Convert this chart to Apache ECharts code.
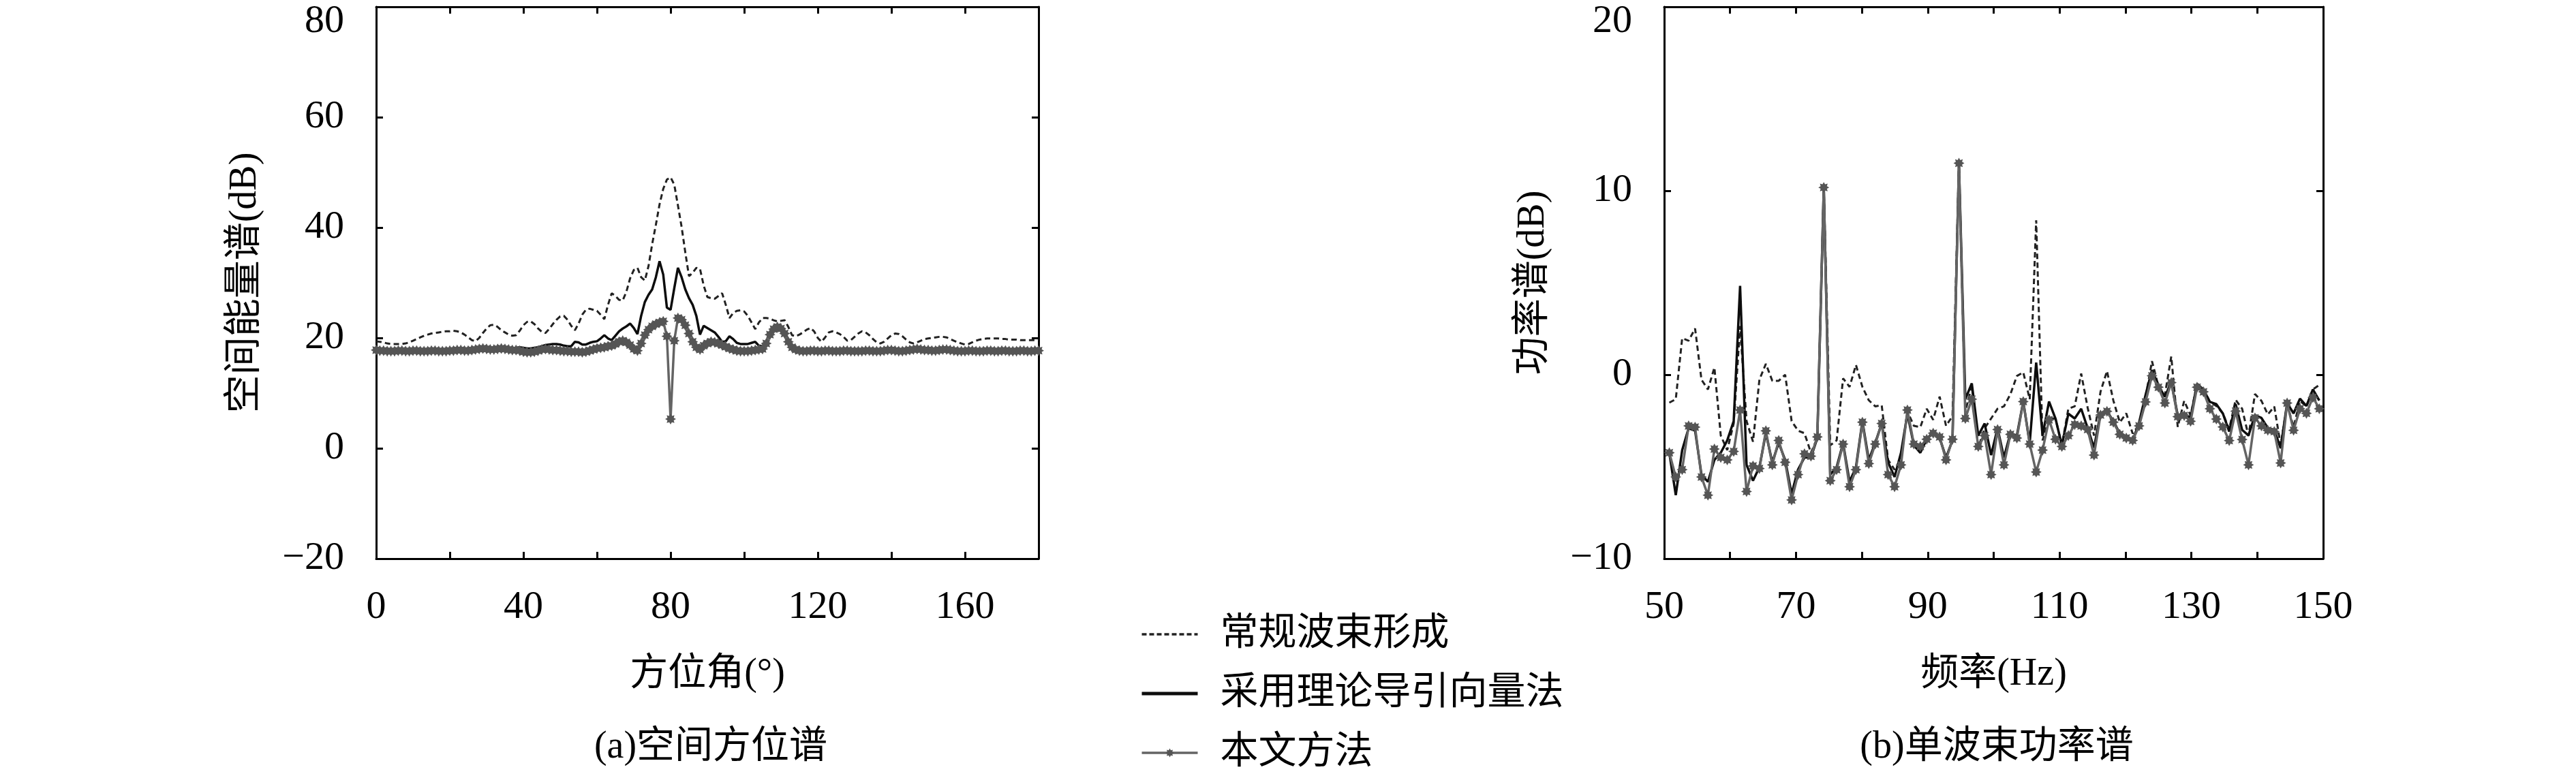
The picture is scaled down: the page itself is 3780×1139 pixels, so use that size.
<!DOCTYPE html>
<html>
<head>
<meta charset="utf-8">
<title>空间方位谱 / 单波束功率谱</title>
<script src="https://cdn.jsdelivr.net/npm/echarts@6/dist/echarts.min.js"></script>
<style>
  html, body { margin: 0; padding: 0; background: #fff; }
  #chart { width: 3780px; height: 1139px; }
</style>
</head>
<body>
<div id="chart"></div>
<script>
// ---------------- data ----------------
const seriesNames = ['常规波束形成', '采用理论导引向量法', '本文方法'];

// (a) 空间方位谱: azimuth (deg) and spatial energy spectrum (dB)
const azimuth = [
  0,1,2,3,4,5,6,7,8,9,10,11,12,13,14,15,16,17,18,19,
  20,21,22,23,24,25,26,27,28,29,30,31,32,33,34,35,36,37,38,39,
  40,41,42,43,44,45,46,47,48,49,50,51,52,53,54,55,56,57,58,59,
  60,61,62,63,64,65,66,67,68,69,70,71,72,73,74,75,76,77,78,79,
  80,81,82,83,84,85,86,87,88,89,90,91,92,93,94,95,96,97,98,99,
  100,101,102,103,104,105,106,107,108,109,110,111,112,113,114,115,116,117,118,119,
  120,121,122,123,124,125,126,127,128,129,130,131,132,133,134,135,136,137,138,139,
  140,141,142,143,144,145,146,147,148,149,150,151,152,153,154,155,156,157,158,159,
  160,161,162,163,164,165,166,167,168,169,170,171,172,173,174,175,176,177,178,179,180
];
const azConv = [
  19.4,19.3,19.2,19.0,18.9,18.9,18.9,18.9,19.0,19.2,
  19.5,19.8,20.1,20.4,20.6,20.8,20.9,21.0,21.1,21.2,
  21.2,21.3,21.2,21.0,20.6,20.1,19.6,19.4,20.0,20.9,
  21.7,22.3,22.4,22.0,21.4,21.0,20.6,20.4,20.5,21.3,
  22.3,22.9,23.0,22.5,21.7,21.1,20.9,21.6,22.5,23.3,
  23.9,24.0,23.3,22.2,21.4,22.6,24.2,25.1,25.3,25.1,
  24.9,24.2,23.4,26.0,28.1,27.6,26.9,26.8,28.4,30.8,
  32.3,32.7,31.0,30.4,33.0,37.0,40.5,44.2,47.0,48.7,
  49.1,47.8,44.0,40.1,35.5,31.2,31.8,32.7,32.5,29.5,
  27.4,27.2,27.1,27.6,28.1,26.0,23.6,24.5,24.9,25.0,
  24.8,24.0,22.8,21.6,22.8,23.6,23.6,23.5,23.2,23.0,
  23.1,23.2,22.0,20.5,20.3,20.6,21.0,21.5,21.8,21.2,
  20.0,19.3,20.1,21.0,21.2,21.0,20.7,20.2,19.5,19.6,
  20.2,20.8,21.2,21.0,20.5,19.8,19.2,19.0,19.3,19.9,
  20.5,20.8,20.7,20.3,19.7,19.2,19.0,19.2,19.5,19.8,
  19.9,20.0,20.1,20.2,20.2,20.1,19.8,19.5,19.2,19.0,
  18.8,18.9,19.2,19.5,19.7,19.8,19.9,19.9,19.9,19.9,
  19.8,19.8,19.7,19.7,19.7,19.6,19.6,19.6,19.6,19.6,19.6
];
const azSteer = [
  17.9,17.9,17.9,17.8,17.8,17.8,17.9,17.9,17.8,17.8,
  17.9,17.9,17.8,17.8,17.8,17.9,17.9,17.8,17.8,17.8,
  17.9,17.9,18.0,18.0,17.9,17.9,18.0,18.1,18.2,18.3,
  18.2,18.1,18.1,18.2,18.3,18.2,18.1,18.1,18.2,18.3,
  18.2,18.1,18.1,18.2,18.3,18.5,18.7,18.8,18.9,18.9,
  18.8,18.6,18.5,18.5,19.3,19.2,18.8,18.8,19.1,19.3,
  19.4,19.9,20.5,19.9,19.6,20.4,21.2,21.7,22.1,22.6,
  21.8,20.7,24.0,26.5,27.8,28.8,31.0,33.9,31.5,25.5,
  25.1,29.0,32.7,31.0,28.8,27.2,26.0,24.0,20.6,22.2,
  21.8,21.4,21.0,20.2,19.3,19.4,20.3,19.8,19.1,18.9,
  18.9,18.9,19.1,19.3,18.6,18.5,19.1,20.6,21.6,22.0,
  21.7,20.8,19.4,18.5,18.2,18.0,17.9,17.9,17.9,17.9,
  17.9,17.9,17.9,17.9,17.8,17.8,17.8,17.9,17.9,17.8,
  17.8,17.8,17.8,17.9,17.9,17.8,17.8,17.8,17.9,18.0,
  18.0,17.9,17.8,17.8,17.9,18.0,18.1,18.2,18.1,18.0,
  18.0,17.9,17.9,18.0,18.1,18.1,18.0,17.9,17.8,17.8,
  17.8,17.9,17.9,17.8,17.8,17.8,17.9,17.9,17.8,17.8,
  17.9,17.9,17.8,17.8,17.8,17.9,17.9,17.8,17.8,17.9,17.9
];
const azProposed = [
  17.8,17.7,17.7,17.6,17.6,17.6,17.7,17.7,17.6,17.6,
  17.7,17.7,17.6,17.6,17.6,17.7,17.7,17.6,17.6,17.6,
  17.7,17.7,17.8,17.8,17.7,17.7,17.8,17.9,18.0,18.1,
  18.0,17.9,17.9,18.0,18.1,18.0,17.9,17.8,17.8,17.7,
  17.5,17.4,17.4,17.5,17.7,17.9,18.0,17.9,17.8,17.8,
  17.7,17.6,17.6,17.5,17.5,17.5,17.4,17.5,17.7,17.9,
  18.1,18.2,18.3,18.5,18.6,18.9,19.3,19.5,19.2,18.7,
  18.0,17.7,19.0,20.5,21.5,22.1,22.5,22.8,23.0,20.3,
  5.3,19.5,23.6,23.3,22.3,20.8,19.3,18.3,17.9,18.6,
  19.0,19.3,19.2,19.0,18.7,18.4,18.1,17.9,17.7,17.6,
  17.6,17.6,17.7,17.8,17.9,18.0,19.0,20.6,21.6,22.0,
  21.7,20.8,19.3,18.3,17.9,17.7,17.6,17.6,17.7,17.7,
  17.6,17.6,17.7,17.7,17.6,17.6,17.6,17.7,17.7,17.6,
  17.6,17.6,17.6,17.7,17.7,17.6,17.6,17.6,17.7,17.8,
  17.8,17.7,17.6,17.6,17.7,17.8,17.9,18.0,17.9,17.8,
  17.8,17.7,17.7,17.8,17.9,17.9,17.8,17.7,17.6,17.6,
  17.6,17.7,17.7,17.6,17.6,17.6,17.7,17.7,17.6,17.6,
  17.7,17.7,17.6,17.6,17.6,17.7,17.7,17.6,17.6,17.7,17.7
];

// (b) 单波束功率谱: frequency bins (Hz) and power spectrum (dB)
const freq = [
  50.78,51.76,52.73,53.71,54.69,55.66,56.64,57.62,58.59,59.57,
  60.55,61.52,62.50,63.48,64.45,65.43,66.41,67.38,68.36,69.34,
  70.31,71.29,72.27,73.24,74.22,75.20,76.17,77.15,78.13,79.10,
  80.08,81.05,82.03,83.01,83.98,84.96,85.94,86.91,87.89,88.87,
  89.84,90.82,91.80,92.77,93.75,94.73,95.70,96.68,97.66,98.63,
  99.61,100.59,101.56,102.54,103.52,104.49,105.47,106.45,107.42,108.40,
  109.38,110.35,111.33,112.30,113.28,114.26,115.23,116.21,117.19,118.16,
  119.14,120.12,121.09,122.07,123.05,124.02,125.00,125.98,126.95,127.93,
  128.91,129.88,130.86,131.84,132.81,133.79,134.77,135.74,136.72,137.70,
  138.67,139.65,140.63,141.60,142.58,143.55,144.53,145.51,146.48,147.46,
  148.44,149.41
];
const pwConv = [
  -1.52,-1.33,1.98,1.85,2.51,-0.27,-0.80,0.39,-3.31,-4.10,
  -2.65,2.64,-2.52,-3.64,-0.27,0.59,-0.33,-0.33,0.00,-2.52,
  -3.04,-3.18,-4.24,-3.44,10.18,-3.84,-3.57,-0.20,-0.66,0.53,
  -0.66,-1.39,-1.72,-1.66,-4.63,-5.16,-4.60,-1.99,-2.78,-2.85,
  -1.85,-2.45,-1.19,-2.78,-2.25,11.50,-2.00,-0.60,-3.97,-2.91,
  -2.38,-1.85,-1.72,-1.06,-0.07,0.13,-1.33,8.40,-3.57,-2.38,
  -2.38,-3.84,-1.85,-1.72,0.06,-1.79,-3.31,-0.93,0.20,-1.40,
  -2.59,-2.10,-3.20,-2.72,-1.23,0.74,-0.62,-1.10,0.99,-2.84,
  -1.42,-2.22,-0.50,-0.80,-1.48,-1.70,-2.10,-2.96,-1.36,-1.85,
  -3.33,-1.05,-1.42,-2.16,-1.73,-3.83,-1.60,-2.84,-1.42,-1.73,
  -0.80,-0.56
];
const pwSteer = [
  -4.24,-6.55,-4.10,-2.91,-3.04,-5.43,-5.82,-4.63,-4.24,-3.57,
  -2.52,4.83,-4.90,-5.76,-5.03,-3.18,-4.76,-3.71,-4.63,-6.48,
  -5.16,-4.50,-4.50,-3.44,10.18,-5.43,-5.03,-3.71,-5.82,-5.03,
  -2.52,-4.63,-3.71,-2.65,-4.76,-5.56,-4.24,-2.12,-3.84,-4.24,
  -3.51,-3.11,-3.44,-4.50,-3.57,11.50,-1.33,-0.47,-3.31,-2.65,
  -4.37,-2.91,-4.50,-3.18,-3.31,-1.46,-3.71,0.66,-3.31,-1.46,
  -2.38,-3.84,-2.12,-2.38,-1.85,-2.91,-3.97,-2.12,-1.99,-2.52,
  -3.20,-3.40,-3.60,-2.60,-1.10,0.25,-0.60,-1.20,-0.40,-2.20,
  -2.10,-2.35,-0.50,-0.80,-1.48,-1.60,-2.10,-3.09,-1.60,-3.00,
  -3.30,-2.20,-2.35,-2.90,-3.00,-4.00,-1.54,-2.10,-1.30,-1.70,
  -0.80,-1.40
];
const pwProposed = [
  -4.24,-5.56,-5.16,-2.78,-2.85,-5.56,-6.55,-4.04,-4.50,-4.63,
  -4.17,-1.92,-6.35,-4.96,-5.10,-3.05,-4.90,-3.57,-4.76,-6.81,
  -5.43,-4.30,-4.43,-3.38,10.18,-5.76,-5.16,-3.77,-6.09,-5.16,
  -2.58,-4.83,-3.77,-2.65,-5.43,-6.09,-4.90,-1.92,-3.77,-3.90,
  -3.51,-3.18,-3.38,-4.63,-3.51,11.50,-2.38,-1.33,-3.90,-3.31,
  -5.43,-2.98,-4.90,-3.24,-3.44,-1.46,-3.77,-5.29,-4.10,-2.45,
  -3.51,-3.90,-3.31,-2.71,-2.78,-2.98,-4.37,-2.19,-1.99,-2.58,
  -3.24,-3.44,-3.57,-2.78,-1.48,-0.06,-0.68,-1.54,-0.43,-2.28,
  -2.22,-2.53,-0.68,-0.93,-1.85,-2.41,-2.84,-3.58,-1.98,-3.52,
  -4.90,-2.35,-2.78,-3.02,-3.09,-4.80,-1.54,-3.02,-1.85,-2.10,
  -1.23,-1.85
];

// tick labels that are printed (other ticks carry no label)
const azLabelTicks = [0, 40, 80, 120, 160];
const freqLabelTicks = [50, 70, 90, 110, 130, 150];

// ---------------- chart ----------------
const FONT = "'Liberation Serif', 'Noto Sans CJK SC', serif";
const TICK_SIZE = 58;
const TEXT_SIZE = 56;

// spiky round marker used by 本文方法
const STAR = 'path://M100 50 L78.64 61.86 L85.36 85.36 L61.86 78.64 L50 100 L38.14 78.64 L14.64 85.36 L21.36 61.86 L0 50 L21.36 38.14 L14.64 14.64 L38.14 21.36 L50 0 L61.86 21.36 L85.36 14.64 L78.64 38.14 Z';

function zip(xs, ys) {
  return xs.map((x, i) => [x, ys[i]]);
}
function num(v) {
  return v < 0 ? '\u2212' + Math.abs(v) : String(v);
}

const axisLine = { show: true, onZero: false, lineStyle: { color: '#000', width: 3 } };
const axisTick = { show: true, inside: true, length: 10, lineStyle: { color: '#000', width: 3 } };
const tickFont = { color: '#000', fontFamily: FONT, fontSize: TICK_SIZE };
const nameFont = { color: '#000', fontFamily: FONT, fontSize: TEXT_SIZE };

function xAxisPair(grid, min, max, interval, labels, name) {
  return [
    {
      gridIndex: grid, type: 'value', position: 'bottom', min: min, max: max, interval: interval,
      axisLine: axisLine, axisTick: axisTick, splitLine: { show: false },
      axisLabel: Object.assign({ margin: 43, formatter: v => labels.indexOf(v) >= 0 ? num(v) : '' }, tickFont),
      name: name, nameLocation: 'middle', nameGap: 142, nameTextStyle: nameFont
    },
    {
      gridIndex: grid, type: 'value', position: 'top', min: min, max: max, interval: interval,
      axisLine: axisLine, axisTick: axisTick, splitLine: { show: false }, axisLabel: { show: false }
    }
  ];
}
function yAxisPair(grid, min, max, interval, name) {
  return [
    {
      gridIndex: grid, type: 'value', position: 'left', min: min, max: max, interval: interval,
      axisLine: axisLine, axisTick: axisTick, splitLine: { show: false },
      axisLabel: Object.assign({
        margin: 47,
        // the top label sits a little below its tick in the original
        formatter: v => v === max ? '{top|' + num(v) + '}' : num(v),
        rich: { top: Object.assign({ padding: [44, 0, 0, 0] }, tickFont) }
      }, tickFont),
      name: name, nameLocation: 'middle', nameGap: 164, nameTextStyle: nameFont
    },
    {
      gridIndex: grid, type: 'value', position: 'right', min: min, max: max, interval: interval,
      axisLine: axisLine, axisTick: axisTick, splitLine: { show: false }, axisLabel: { show: false }
    }
  ];
}

function threeSeries(xIdx, yIdx, xs, conv, steer, proposed) {
  return [
    {
      name: seriesNames[0], type: 'line', xAxisIndex: xIdx, yAxisIndex: yIdx,
      data: zip(xs, conv), symbol: 'none', z: 2,
      lineStyle: { color: '#222', width: 3, type: [8, 5] }, itemStyle: { color: '#222' }
    },
    {
      name: seriesNames[1], type: 'line', xAxisIndex: xIdx, yAxisIndex: yIdx,
      data: zip(xs, steer), symbol: 'none', z: 3,
      lineStyle: { color: '#0d0d0d', width: 3.5 }, itemStyle: { color: '#0d0d0d' }
    },
    {
      name: seriesNames[2], type: 'line', xAxisIndex: xIdx, yAxisIndex: yIdx,
      data: zip(xs, proposed), symbol: STAR, symbolSize: 16, showAllSymbol: true, z: 4,
      lineStyle: { color: '#646464', width: 3.5 }, itemStyle: { color: '#555' }
    }
  ];
}

const chart = echarts.init(document.getElementById('chart'), null, { renderer: 'canvas' });

const option = {
  animation: false,
  backgroundColor: '#fff',
  grid: [
    { left: 552, top: 10, width: 972, height: 810 },
    { left: 2442, top: 10, width: 967, height: 810 }
  ],
  xAxis: [].concat(
    xAxisPair(0, 0, 180, 20, azLabelTicks, '方位角(°)'),
    xAxisPair(1, 50, 150, 10, freqLabelTicks, '频率(Hz)')
  ),
  yAxis: [].concat(
    yAxisPair(0, -20, 80, 20, '空间能量谱(dB)'),
    yAxisPair(1, -10, 20, 10, '功率谱(dB)')
  ),
  legend: {
    data: [
      { name: seriesNames[0], itemStyle: { opacity: 0 }, lineStyle: { width: 3.5, type: [7, 4] } },
      { name: seriesNames[1], itemStyle: { opacity: 0 }, lineStyle: { width: 5 } },
      { name: seriesNames[2], lineStyle: { width: 3.5 } }
    ],
    orient: 'vertical',
    left: 1668,
    top: 898,
    itemWidth: 82,
    itemHeight: 16,
    itemGap: 31,
    textStyle: { color: '#000', fontFamily: FONT, fontSize: TEXT_SIZE, padding: [0, 0, 0, 28] }
  },
  title: [
    { text: '(a)空间方位谱', left: 1038, top: 1064, textAlign: 'center',
      textStyle: { color: '#000', fontFamily: FONT, fontSize: TEXT_SIZE, fontWeight: 'normal' } },
    { text: '(b)单波束功率谱', left: 2925, top: 1064, textAlign: 'center',
      textStyle: { color: '#000', fontFamily: FONT, fontSize: TEXT_SIZE, fontWeight: 'normal' } }
  ],
  series: [].concat(
    threeSeries(0, 0, azimuth, azConv, azSteer, azProposed),
    threeSeries(2, 2, freq, pwConv, pwSteer, pwProposed)
  )
};

chart.setOption(option);
</script>
</body>
</html>
